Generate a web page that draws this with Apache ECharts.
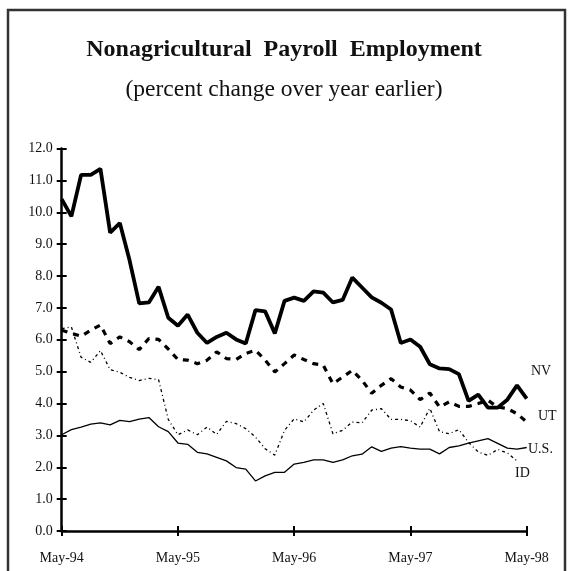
<!DOCTYPE html>
<html>
<head>
<meta charset="utf-8">
<script src="https://cdn.jsdelivr.net/npm/echarts@6/dist/echarts.min.js"></script>
<style>
  html, body { margin: 0; padding: 0; background: #fff; }
  #main { width: 568px; height: 571px; }
</style>
</head>
<body>
<div id="main"></div>
<script>
// monthly, May-94 .. May-98
const monthNames = ['May','Jun','Jul','Aug','Sep','Oct','Nov','Dec','Jan','Feb','Mar','Apr'];
const tickLabels = ['May-94','May-95','May-96','May-97','May-98'];
const months = [];
for (let i = 0; i < 49; i++) {
  const yr = 94 + Math.floor((i + 4) / 12);
  months.push(monthNames[i % 12] + '-' + String(yr % 100).padStart(2, '0'));
}

const nv = [10.41, 9.87, 11.17, 11.17, 11.36, 9.36, 9.66, 8.5, 7.14, 7.17, 7.66, 6.69,
  6.44, 6.79, 6.22, 5.9, 6.09, 6.22, 6.01, 5.88, 6.93, 6.89, 6.2, 7.22,
  7.32, 7.22, 7.52, 7.48, 7.17, 7.25, 7.95, 7.64, 7.33, 7.16, 6.95, 5.9,
  6.01, 5.78, 5.23, 5.1, 5.08, 4.92, 4.08, 4.28, 3.87, 3.87, 4.12, 4.57, 4.15];

const ut = [6.3, 6.2, 6.11, 6.3, 6.46, 5.88, 6.09, 5.94, 5.69, 6.04, 6.01, 5.71,
  5.38, 5.36, 5.25, 5.36, 5.62, 5.41, 5.38, 5.57, 5.67, 5.36, 4.99, 5.25,
  5.52, 5.38, 5.25, 5.2, 4.62, 4.83, 5.04, 4.73, 4.32, 4.57, 4.78, 4.52,
  4.42, 4.12, 4.33, 3.89, 4.05, 3.91, 3.91, 4.0, 4.1, 3.89, 3.84, 3.68, 3.42];

const id = [6.35, 6.4, 5.45, 5.29, 5.66, 5.06, 4.98, 4.82, 4.72, 4.79, 4.75, 3.5,
  3.02, 3.17, 3.02, 3.26, 3.03, 3.44, 3.37, 3.21, 2.95, 2.58, 2.38, 3.16,
  3.52, 3.42, 3.79, 4.0, 3.05, 3.16, 3.42, 3.39, 3.79, 3.84, 3.5, 3.5,
  3.46, 3.26, 3.85, 3.12, 3.05, 3.18, 2.78, 2.48, 2.37, 2.56, 2.45, 2.2, null];

const us = [3.02, 3.18, 3.26, 3.35, 3.39, 3.33, 3.47, 3.43, 3.51, 3.56, 3.27, 3.12,
  2.76, 2.72, 2.47, 2.42, 2.31, 2.2, 1.99, 1.94, 1.57, 1.73, 1.84, 1.84,
  2.1, 2.15, 2.23, 2.23, 2.15, 2.23, 2.36, 2.41, 2.64, 2.5, 2.6, 2.65,
  2.6, 2.57, 2.57, 2.42, 2.62, 2.67, 2.76, 2.83, 2.9, 2.75, 2.6, 2.57, 2.62];

const serif = "'Liberation Serif', 'Times New Roman', serif";
const ink = '#111';

const chart = echarts.init(document.getElementById('main'), null, { renderer: 'canvas' });

function mayLabel(val, idx) {
  return idx % 12 === 0 ? tickLabels[idx / 12] : '';
}

const grid = { left: 61.7, right: 41.3, top: 148.5, bottom: 40 };

chart.setOption({
  animation: false,
  backgroundColor: '#fff',
  title: [
    {
      text: 'Nonagricultural  Payroll  Employment',
      left: 'center', top: 33,
      textStyle: { fontFamily: serif, fontWeight: 'bold', fontSize: 24, color: ink }
    },
    {
      text: '(percent change over year earlier)',
      left: 'center', top: 73,
      textStyle: { fontFamily: serif, fontWeight: 'normal', fontSize: 23.5, color: ink }
    }
  ],
  grid: grid,
  xAxis: [
    {
      type: 'category', data: months, boundaryGap: false,
      axisLine: { lineStyle: { color: '#000', width: 2.5 } },
      axisTick: { interval: 11, length: 5, lineStyle: { color: '#000', width: 2 } },
      axisLabel: { interval: 0, formatter: mayLabel, margin: 20,
        fontFamily: serif, fontSize: 14, color: ink },
      splitLine: { show: false }
    },
    {
      type: 'category', data: months, boundaryGap: false, position: 'bottom',
      axisLine: { show: false },
      axisTick: { inside: true, interval: 11, length: 5, lineStyle: { color: '#000', width: 2 } },
      axisLabel: { show: false },
      splitLine: { show: false }
    }
  ],
  yAxis: [
    {
      type: 'value', min: 0, max: 12, interval: 1,
      axisLine: { show: true, lineStyle: { color: '#000', width: 2.5 } },
      axisTick: { show: true, length: 5, lineStyle: { color: '#000', width: 2 } },
      axisLabel: { formatter: v => v.toFixed(1), margin: 9,
        fontFamily: serif, fontSize: 14, color: ink },
      splitLine: { show: false }
    },
    {
      type: 'value', min: 0, max: 12, interval: 1, position: 'left',
      axisLine: { show: false },
      axisTick: { show: true, inside: true, length: 5, lineStyle: { color: '#000', width: 2 } },
      axisLabel: { show: false },
      splitLine: { show: false }
    }
  ],
  series: [
    { name: 'NV', type: 'line', data: nv, showSymbol: false,
      lineStyle: { color: '#000', width: 3.8 } },
    { name: 'UT', type: 'line', data: ut, showSymbol: false,
      lineStyle: { color: '#000', width: 3.2, type: [6, 6] } },
    { name: 'ID', type: 'line', data: id, showSymbol: false,
      lineStyle: { color: '#000', width: 1.3, type: [3, 3, 1, 3] } },
    { name: 'U.S.', type: 'line', data: us, showSymbol: false,
      lineStyle: { color: '#000', width: 1.3 } }
  ],
  graphic: [
    { type: 'rect', shape: { x: 8, y: 10, width: 557, height: 590 },
      style: { fill: 'none', stroke: '#333', lineWidth: 2.5 }, silent: true },
    { type: 'text', left: 531, top: 364, style: { text: 'NV', font: '14px ' + serif, fill: ink } },
    { type: 'text', left: 538, top: 409, style: { text: 'UT', font: '14px ' + serif, fill: ink } },
    { type: 'text', left: 528, top: 442, style: { text: 'U.S.', font: '14px ' + serif, fill: ink } },
    { type: 'text', left: 515, top: 466, style: { text: 'ID', font: '14px ' + serif, fill: ink } }
  ]
});
</script>
</body>
</html>
